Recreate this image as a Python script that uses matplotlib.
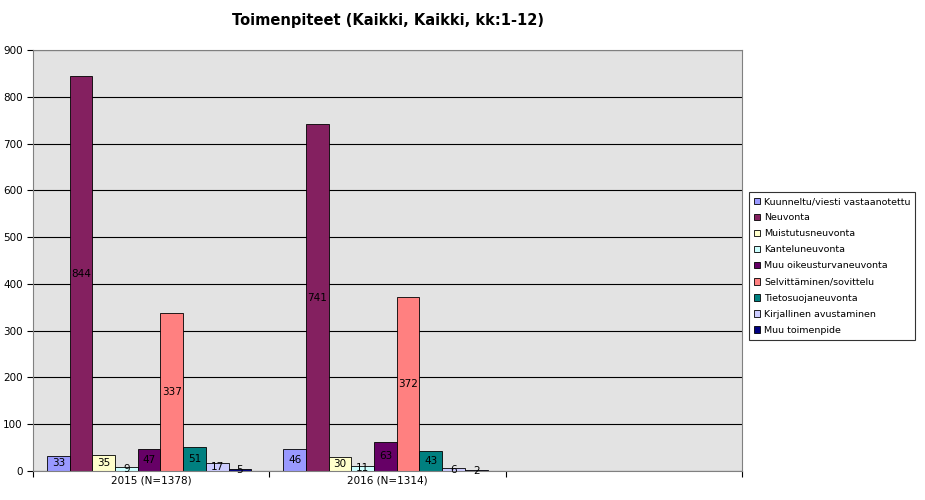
import matplotlib
matplotlib.use("Agg")
import matplotlib.pyplot as plt
import numpy as np

categories = ["2015 (N=1378)", "2016 (N=1314)", ""]
series = ["Kuunneltu/viesti vastaanotettu", "Neuvonta", "Muistutusneuvonta", "Kanteluneuvonta",
          "Muu oikeusturvaneuvonta", "Selvittäminen/sovittelu", "Tietosuojaneuvonta",
          "Kirjallinen avustaminen", "Muu toimenpide"]
values = [[33, 46], [844, 741], [35, 30], [9, 11], [47, 63], [337, 372], [51, 43], [17, 6], [5, 2]]
colors = ["#9999FF", "#842060", "#FFFFCC", "#CCFFFF", "#660066", "#FF8080", "#008080", "#CCCCFF", "#000080"]

fig = plt.figure(figsize=(9.25, 5.0), dpi=100)
ax = fig.add_axes([33/925, 29/500, 709/925, 421/500])
ax.set_facecolor("#E3E3E3")
w = 0.096
start = 14/236
for i, (s, v, c) in enumerate(zip(series, values, colors)):
    x = np.arange(len(v)) + start + w*i + w/2
    ax.bar(x, v, width=w, color=c, edgecolor="black", linewidth=0.6, label=s)
    for xi, vi in zip(x, v):
        ax.text(xi, vi/2, str(vi), ha="center", va="center", fontsize=7.5, color="black")
ax.set_xlim(0, 3)
ax.set_ylim(0, 900)
ax.set_yticks(range(0, 901, 100))
ax.set_xticks([0, 1, 2, 3])
ax.set_xticklabels([])
ax.set_xticks([0.5, 1.5, 2.5], minor=True)
ax.set_xticklabels(categories, minor=True)
ax.tick_params(axis="x", which="minor", length=0, labelsize=7.5)
ax.tick_params(axis="x", which="major", length=4)
ax.tick_params(axis="y", labelsize=7.5, length=4)
ax.yaxis.grid(True, color="black", linewidth=0.8)
ax.set_axisbelow(True)
for sp in ax.spines.values():
    sp.set_color("#808080")
fig.text(0.5*(33+742)/925, 1-20/500, "Toimenpiteet (Kaikki, Kaikki, kk:1-12)", fontsize=10.5,
         fontweight="bold", ha="center", va="center")
leg = fig.legend(loc="center left", bbox_to_anchor=(749/925, 1-266/500), fontsize=6.8, frameon=True,
                 fancybox=False, edgecolor="black", handlelength=0.7, handleheight=0.7,
                 borderpad=0.5, labelspacing=0.75, handletextpad=0.4, borderaxespad=0)
leg.get_frame().set_linewidth(0.8)
fig.savefig("out.png", dpi=100)
